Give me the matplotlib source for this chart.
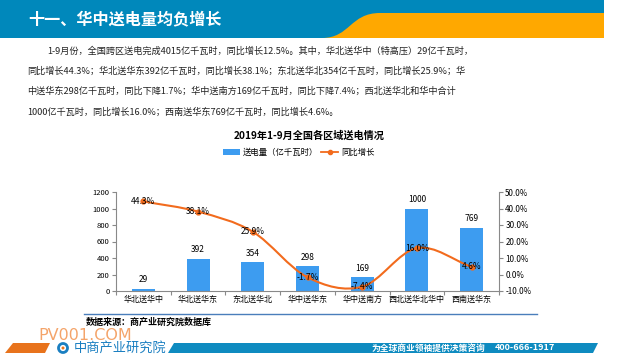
import matplotlib
matplotlib.use('Agg')
import matplotlib.pyplot as plt
from matplotlib.patches import Rectangle, Polygon, PathPatch, Circle
from matplotlib.path import Path
import numpy as np

plt.rcParams['font.family'] = ['Noto Sans CJK SC', 'DejaVu Sans']

# 数据
regions = ['华北送华中', '华北送华东', '东北送华北', '华中送华东', '华中送南方', '西北送华北华中', '西南送华东']
power = [29, 392, 354, 298, 169, 1000, 769]          # 送电量（亿千瓦时）
growth = [44.3, 38.1, 25.9, -1.7, -7.4, 16.0, 4.6]    # 同比增长 %
left_ticks = [0, 200, 400, 600, 800, 1000, 1200]
right_ticks = [-10, 0, 10, 20, 30, 40, 50]

paragraph = [
    '1-9月份，全国跨区送电完成4015亿千瓦时，同比增长12.5%。其中，华北送华中（特高压）29亿千瓦时，',
    '同比增长44.3%；华北送华东392亿千瓦时，同比增长38.1%；东北送华北354亿千瓦时，同比增长25.9%；华',
    '中送华东298亿千瓦时，同比下降1.7%；华中送南方169亿千瓦时，同比下降7.4%；西北送华北和华中合计',
    '1000亿千瓦时，同比增长16.0%；西南送华东769亿千瓦时，同比增长4.6%。',
]

BLUE = '#0088bb'
ORANGE = '#ffa800'
BAR = '#3d9cf0'
LINE = '#f26b1d'
GREY = '#898989'

W, H = 640, 360
fig = plt.figure(figsize=(6.4, 3.6), dpi=100)

# 背景层，像素坐标
bg = fig.add_axes([0, 0, 1, 1])
bg.set_xlim(0, W)
bg.set_ylim(H, 0)
bg.axis('off')

# 顶部标题栏
bg.add_patch(Rectangle((0, 0), 604, 38, color=BLUE, lw=0))
hdr = Path([(322, 38), (350, 38), (350, 13), (380, 13), (604, 13), (604, 38), (322, 38)],
           [Path.MOVETO, Path.CURVE4, Path.CURVE4, Path.CURVE4, Path.LINETO, Path.LINETO, Path.CLOSEPOLY])
bg.add_patch(PathPatch(hdr, color=ORANGE, lw=0))
bg.text(28, 19, '十一、华中送电量均负增长', color='white', fontsize=11.6, fontweight='bold', va='center')

# 正文
for i, line in enumerate(paragraph):
    bg.text(47 if i == 0 else 27, 51 + i * 20.3, line, fontsize=6.6, va='center', color='#222222')

# 图表标题和图例
bg.text(309, 136, '2019年1-9月全国各区域送电情况', fontsize=7.3, fontweight='bold', ha='center', va='center')
bg.add_patch(Rectangle((223, 149), 17, 6, color=BAR, lw=0))
bg.text(243, 152, '送电量（亿千瓦时）', fontsize=6, va='center')
bg.plot([321, 338], [152, 152], color=LINE, lw=1.3)
bg.plot([329.5], [152], 'o', color=LINE, ms=3)
bg.text(341, 152, '同比增长', fontsize=6, va='center')

# 主图
ax = fig.add_axes([116 / W, (H - 291) / H, (499 - 116) / W, (291 - 192) / H])
ax.patch.set_alpha(0)
x = np.arange(len(regions))
ax.bar(x, power, width=0.42, color=BAR, zorder=2)
ax.set_xlim(-0.5, len(regions) - 0.5)
ax.set_ylim(0, 1200)
ax.set_yticks(left_ticks)
ax.set_yticklabels([str(v) for v in left_ticks], fontsize=5.5)
ax.set_xticks(np.arange(len(regions) + 1) - 0.5)
ax.set_xticklabels([])
ax.set_xticks(x, minor=True)
ax.set_xticklabels(regions, minor=True, fontsize=5.8)
ax.tick_params(axis='x', which='major', length=3, color=GREY)
ax.tick_params(axis='x', which='minor', length=0, pad=3)
ax.tick_params(axis='y', length=3, color=GREY, pad=1.5)
for s in ['top', 'right']:
    ax.spines[s].set_visible(False)
for s in ['left', 'bottom']:
    ax.spines[s].set_color(GREY)
for i, v in enumerate(power):
    ax.annotate(str(v), (i, v), xytext=(0, 3), textcoords='offset points',
                ha='center', va='bottom', fontsize=6)

ax2 = ax.twinx()
ax2.set_ylim(-10, 50)
ax2.set_yticks(right_ticks)
ax2.set_yticklabels([f'{v:.1f}%' for v in right_ticks], fontsize=5.8)
ax2.tick_params(axis='y', length=3, color=GREY, pad=1.5)
for s in ['top', 'left', 'bottom']:
    ax2.spines[s].set_visible(False)
ax2.spines['right'].set_color(GREY)

# 平滑折线（Catmull-Rom -> 三次贝塞尔）
pts = np.column_stack([x, growth]).astype(float)
tan = np.zeros_like(pts)
tan[1:-1] = (pts[2:] - pts[:-2]) / 2
tan[0] = pts[1] - pts[0]
tan[-1] = pts[-1] - pts[-2]
verts = [tuple(pts[0])]
codes = [Path.MOVETO]
for i in range(len(pts) - 1):
    verts += [tuple(pts[i] + tan[i] / 3), tuple(pts[i + 1] - tan[i + 1] / 3), tuple(pts[i + 1])]
    codes += [Path.CURVE4] * 3
ax2.add_patch(PathPatch(Path(verts, codes), fill=False, edgecolor=LINE, lw=1.5, zorder=3))
ax2.plot(x, growth, 'o', color=LINE, ms=3.5, zorder=4)
for i, g in enumerate(growth):
    ax2.text(i, g, f'{g:.1f}%', ha='center', va='center', fontsize=6, zorder=5)

# 数据来源
bg.plot([84, 537], [314, 314], color='#4a7ebb', lw=1)
bg.text(86, 322, '数据来源：商产业研究院数据库', fontsize=6.5, fontweight='bold', va='center')

# 底部
bg.text(38, 335, 'PV001.COM', fontsize=11.5, color='#f4a46a', va='center', family='DejaVu Sans')
bg.add_patch(Polygon([(5, 353), (13, 343), (50, 343), (45, 353)], color='#e8731c', lw=0))
bg.add_patch(Circle((63, 348), 4.5, fill=False, edgecolor='#1a7fc1', lw=2))
bg.add_patch(Circle((63, 348), 1.5, color='#e8731c', lw=0))
bg.text(74, 348, '中商产业研究院', fontsize=9.5, color='#1a7fc1', va='center')
bg.add_patch(Polygon([(168, 353), (174, 343), (598, 343), (593, 353)], color='#0e8bc0', lw=0))
bg.text(372, 348, '为全球商业领袖提供决策咨询', fontsize=6.3, color='white', va='center', fontweight='bold')
bg.text(495, 348, '400-666-1917', fontsize=6.5, color='white', va='center', fontweight='bold')

fig.savefig('out.png', dpi=100)
